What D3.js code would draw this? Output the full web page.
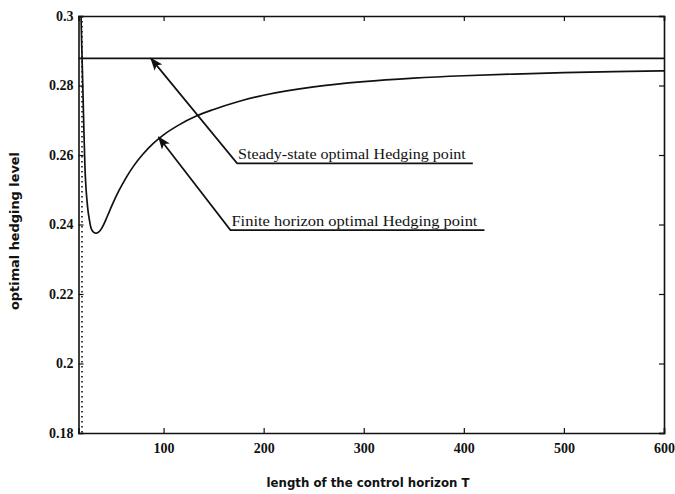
<!DOCTYPE html>
<html>
<head>
<meta charset="utf-8">
<script src="https://cdn.jsdelivr.net/npm/d3@7"></script>
<style>
  html, body { margin: 0; padding: 0; background: #fff; }
  svg { display: block; }
</style>
</head>
<body>
<svg id="chart" width="675" height="494"></svg>
<script>
// Horizon lengths T and the finite-horizon optimal hedging level at each T
const horizonT = [17.5, 19, 20.5, 21.5, 22.5, 23.5, 24.5, 25.8, 27.5, 30, 32.5, 35, 37.5, 40, 42.5,
                  45.9, 50, 55, 62.6, 70, 79.3, 90, 100, 115, 132.7, 150, 175, 200, 250, 300,
                  350, 400, 450, 500, 550, 600];
const finiteLevel = [0.3000, 0.2830, 0.2660, 0.2560, 0.2505, 0.2468, 0.2440, 0.2415, 0.2390, 0.2378,
                     0.2375, 0.2378, 0.2386, 0.2399, 0.2415, 0.2438, 0.2465, 0.2495, 0.2535, 0.2568,
                     0.2602, 0.2634, 0.2658, 0.2686, 0.2712, 0.2731, 0.2754, 0.2772, 0.2796, 0.2811,
                     0.2821, 0.2828, 0.2833, 0.2837, 0.2840, 0.2842];
// Steady-state optimal hedging level (constant in T)
const steadyLevel = 0.2878;
// Horizon at which the dotted reference line is drawn
const markerT = 18.5;

const xTicks = [100, 200, 300, 400, 500, 600];
const yTicks = [0.18, 0.2, 0.22, 0.24, 0.26, 0.28, 0.3];
const xDomain = [15, 600];
const yDomain = [0.18, 0.3];

const xLabel = "length of the control horizon T";
const yLabel = "optimal hedging level";

// Callouts: arrow tip and elbow in data units, text under which a rule is drawn
const calloutText = ["Steady-state optimal Hedging point", "Finite horizon optimal Hedging point"];
const calloutTip = [[87.3, steadyLevel], [95, 0.2652]];
const calloutElbow = [[173.5, 0.2576], [166.8, 0.2384]];
const calloutEnd = [409, 420.6];

(function draw() {
  const svg = d3.select("#chart");
  const plotLeft = 78.5, plotRight = 664, plotTop = 16, plotBottom = 433;

  const x = d3.scaleLinear().domain(xDomain).range([plotLeft, plotRight]);
  const y = d3.scaleLinear().domain(yDomain).range([plotBottom, plotTop]);

  const ink = "#111";
  const serif = "'Liberation Serif', 'Times New Roman', serif";

  // Axes with inward ticks on all four sides
  const gx = svg.append("g").attr("transform", `translate(0,${plotBottom})`)
    .call(d3.axisBottom(x).tickValues(xTicks).tickSize(-5).tickPadding(10).tickFormat(d3.format("d")));
  const gy = svg.append("g").attr("transform", `translate(${plotLeft},0)`)
    .call(d3.axisLeft(y).tickValues(yTicks).tickSize(-5).tickPadding(5).tickFormat(d => String(+d.toFixed(2))));
  const gt = svg.append("g").attr("transform", `translate(0,${plotTop})`)
    .call(d3.axisTop(x).tickValues(xTicks).tickSize(-5).tickFormat(""));
  const gr = svg.append("g").attr("transform", `translate(${plotRight},0)`)
    .call(d3.axisRight(y).tickValues(yTicks).tickSize(-5).tickFormat(""));

  [gx, gy, gt, gr].forEach(g => {
    g.selectAll("path.domain").attr("stroke", ink).attr("stroke-width", 1.6);
    g.selectAll(".tick line").attr("stroke", ink).attr("stroke-width", 1.2);
    g.selectAll(".tick text").attr("fill", ink).attr("font-family", serif)
      .attr("font-size", 14).attr("font-weight", "bold");
  });

  // Dotted reference line near the left edge
  svg.append("line")
    .attr("x1", x(markerT)).attr("x2", x(markerT))
    .attr("y1", y(yDomain[1])).attr("y2", y(yDomain[0]))
    .attr("stroke", ink).attr("stroke-width", 1.6)
    .attr("stroke-dasharray", "1.6,3.4");

  // Steady-state level
  svg.append("line")
    .attr("x1", x(xDomain[0])).attr("x2", x(xDomain[1]))
    .attr("y1", y(steadyLevel)).attr("y2", y(steadyLevel))
    .attr("stroke", ink).attr("stroke-width", 1.7);

  // Finite-horizon curve
  const pts = horizonT.map((t, i) => [t, finiteLevel[i]]);
  svg.append("path")
    .datum(pts)
    .attr("fill", "none").attr("stroke", ink).attr("stroke-width", 1.7)
    .attr("d", d3.line().x(d => x(d[0])).y(d => y(d[1])).curve(d3.curveMonotoneX));

  // Arrowhead marker
  svg.append("defs").append("marker")
    .attr("id", "head").attr("viewBox", "0 0 13 10")
    .attr("refX", 12).attr("refY", 5)
    .attr("markerWidth", 13).attr("markerHeight", 10)
    .attr("markerUnits", "userSpaceOnUse")
    .attr("orient", "auto-start-reverse")
    .append("path").attr("d", "M0,0 L13,5 L0,10 L3,5 Z").attr("fill", ink);

  calloutText.forEach((txt, i) => {
    const [tx, ty] = calloutTip[i];
    const [ex, ey] = calloutElbow[i];
    svg.append("path")
      .attr("d", `M${x(calloutEnd[i])},${y(ey)} L${x(ex)},${y(ey)} L${x(tx)},${y(ty)}`)
      .attr("fill", "none").attr("stroke", ink).attr("stroke-width", 1.7)
      .attr("marker-end", "url(#head)");
    svg.append("text")
      .attr("x", x(ex) + 1).attr("y", y(ey) - 4)
      .attr("font-family", serif).attr("font-size", 14).attr("fill", ink)
      .attr("textLength", x(calloutEnd[i]) - x(ex) - 8)
      .attr("lengthAdjust", "spacingAndGlyphs")
      .text(txt);
  });

  // Axis titles
  svg.append("text")
    .attr("x", 368).attr("y", 487).attr("text-anchor", "middle")
    .attr("font-family", "'DejaVu Sans', sans-serif").attr("font-size", 12.5)
    .attr("font-weight", "bold").attr("fill", ink)
    .attr("textLength", 203).attr("lengthAdjust", "spacingAndGlyphs")
    .text(xLabel);
  svg.append("text")
    .attr("transform", "translate(19,231) rotate(-90)").attr("text-anchor", "middle")
    .attr("font-family", "'DejaVu Sans', sans-serif").attr("font-size", 12.5)
    .attr("font-weight", "bold").attr("fill", ink)
    .attr("textLength", 158).attr("lengthAdjust", "spacingAndGlyphs")
    .text(yLabel);
})();
</script>
</body>
</html>
